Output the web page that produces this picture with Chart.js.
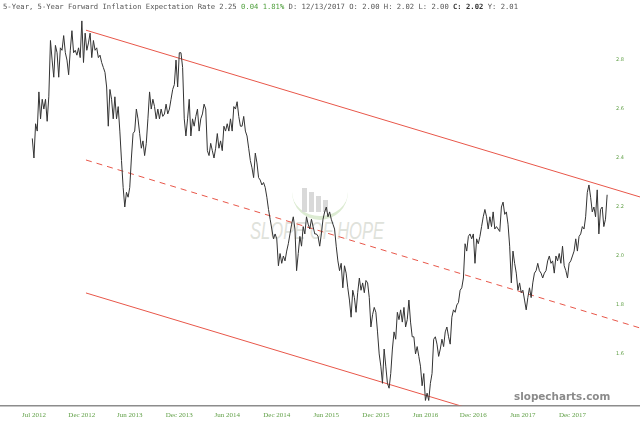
<!DOCTYPE html>
<html>
<head>
<meta charset="utf-8">
<script src="https://cdn.jsdelivr.net/npm/chart.js@4.4.0/dist/chart.umd.min.js"></script>
<style>
  html, body { margin: 0; padding: 0; background: #fff; }
  #wrap { position: relative; width: 640px; height: 425px; overflow: hidden; }
  #chart { position: absolute; left: 0; top: 0; }
  #header { position: absolute; left: 3px; top: 2px; font-family: 'DejaVu Sans Mono', monospace; font-size: 7.2px; color: #555; white-space: pre; }
  #header .up { color: #4f9f3c; }
  #header b { color: #333; }
  #brand { position: absolute; left: 514px; top: 390px; font-family: 'DejaVu Sans', sans-serif; font-weight: bold; font-size: 10.4px; color: #8a8a8a; }
  #mark { position: absolute; left: 250px; top: 218px; font-family: 'Liberation Sans', sans-serif; font-style: italic; font-size: 23px; color: #dfe2db; transform: scaleX(0.72); transform-origin: left top; white-space: pre; }
  .bar { position: absolute; background: #d9d9d9; width: 5px; }
  #swoosh { position: absolute; left: 292px; top: 178px; width: 56px; height: 38px; border-bottom: 4px solid #dcebd2; border-radius: 0 0 40px 40px; }
</style>
</head>
<body>
<div id="wrap">
  <div id="swoosh"></div>
  <div class="bar" style="left:302px; top:188px; height:24px;"></div>
  <div class="bar" style="left:309px; top:192px; height:20px;"></div>
  <div class="bar" style="left:316px; top:196px; height:16px;"></div>
  <div class="bar" style="left:323px; top:200px; height:12px;"></div>
  <div id="mark">SLOPE OF HOPE</div>
  <canvas id="chart" width="640" height="425"></canvas>
  <div id="header">5-Year, 5-Year Forward Inflation Expectation Rate 2.25 <span class="up">0.04 1.81%</span> D: 12/13/2017 O: 2.00 H: 2.02 L: 2.00 <b>C: 2.02</b> Y: 2.01</div>
  <div id="brand">slopecharts.com</div>
</div>
<script>
    // 5y5y forward inflation expectation, Jul 2012 - Dec 2017
    const rate = [
        2.48,2.40,2.54,2.51,2.67,2.56,2.64,2.60,2.64,2.55,
        2.65,2.88,2.80,2.73,2.86,2.83,2.73,2.85,2.84,2.90,
        2.83,2.80,2.74,2.84,2.92,2.83,2.84,2.82,2.85,2.81,
        2.96,2.79,2.91,2.84,2.87,2.91,2.81,2.88,2.84,2.85,
        2.81,2.82,2.79,2.77,2.75,2.69,2.53,2.68,2.64,2.56,
        2.65,2.56,2.61,2.51,2.39,2.28,2.20,2.26,2.24,2.28,
        2.40,2.50,2.51,2.60,
        2.56,2.50,2.44,2.47,2.41,2.46,2.56,2.67,2.60,2.64,
        2.61,2.56,2.60,2.56,2.60,2.57,2.58,2.62,2.58,2.60,
        2.64,2.68,2.70,2.80,2.69,2.83,2.83,2.77,2.56,2.49,
        2.56,2.64,2.49,2.56,2.53,2.57,2.60,2.51,2.56,2.58,
        2.62,2.60,2.43,2.41,2.46,2.43,2.40,2.44,2.50,2.44,
        2.47,2.43,2.53,2.51,2.54,2.51,2.56,2.51,2.61,2.60,
        2.63,2.57,2.53,2.53,2.57,2.51,2.49,2.44,2.39,2.36,
        2.32,2.42,2.38,
        2.32,2.31,2.29,2.30,2.28,2.24,2.19,2.15,2.11,2.07,
        2.09,2.07,1.96,2.01,1.97,2.00,1.98,2.02,2.05,2.09,
        2.13,2.16,2.11,1.94,2.01,2.08,2.04,2.12,2.09,2.16,
        2.13,2.11,2.15,2.12,2.09,2.09,2.08,2.04,2.09,2.15,
        2.18,2.20,2.16,2.18,2.15,2.13,2.11,2.04,1.98,1.94,
        1.97,1.87,1.96,1.93,1.87,1.82,1.75,1.86,1.83,1.77,
        1.85,1.91,1.86,1.89,1.85,1.90,1.89,1.83,1.71,1.76,
        1.79,
        1.77,1.69,1.60,1.55,1.48,1.62,1.55,1.48,1.46,1.52,
        1.62,1.69,1.66,1.77,1.74,1.78,1.73,1.79,1.71,1.74,
        1.82,1.73,1.67,1.67,1.60,1.63,1.59,1.55,1.47,1.52,
        1.41,1.44,1.41,1.48,1.52,1.66,1.67,1.64,1.59,1.62,
        1.66,1.63,1.69,1.71,1.67,1.64,1.75,1.78,1.77,1.80,
        1.81,1.86,1.87,1.91,2.05,2.02,2.08,2.09,2.07,2.09,
        1.97,2.07,2.05,2.08,2.12,2.16,2.19,2.16,2.11,2.16,
        2.12,2.18,2.11,2.12,2.11,
        2.10,2.20,2.22,2.17,2.18,2.13,2.04,1.89,2.02,1.97,
        1.93,1.86,1.89,1.85,1.86,1.82,1.78,1.83,1.87,1.83,
        1.89,1.93,1.94,1.97,1.94,1.93,1.91,1.93,1.94,1.98,
        2.00,1.97,1.98,1.93,2.00,1.98,2.01,1.97,2.04,1.96,
        1.94,1.91,1.97,1.98,2.00,2.02,2.07,2.02,2.08,2.09,
        2.12,2.11,2.16,2.26,2.29,2.24,2.18,2.20,2.16,2.27,
        2.09,2.19,2.20,2.12,2.15,2.25
    ];

    // date labels on the bottom axis and the data index they sit at
    const tickLabels = ['Jul 2012','Dec 2012','Jun 2013','Dec 2013','Jun 2014','Dec 2014',
                        'Jun 2015','Dec 2015','Jun 2016','Dec 2016','Jun 2017','Dec 2017'];
    const tickIndex = [1, 30, 59, 89, 118, 148, 178, 208, 238, 267, 297, 327];
    const yTicks = [1.6, 1.8, 2.0, 2.2, 2.4, 2.6, 2.8];

    // hand drawn trend channel: [start, end] in (index, value)
    const channelX = [32.5, 367.9];
    const upperLine = [2.922, 2.241];
    const middleLine = [2.392, 1.706];
    const lowerLine = [1.849, 1.167];

    const green = '#5f9f45';
    const red = '#e8574a';

    function channel(vals) {
        return [{ x: channelX[0], y: vals[0] }, { x: channelX[1], y: vals[1] }];
    }

    // price labels are printed inside the plot near the right edge
    const insideYLabels = {
        id: 'insideYLabels',
        afterDraw(chart) {
            const y = chart.scales.y;
            const c = chart.ctx;
            c.save();
            c.fillStyle = green;
            c.font = '5px "DejaVu Sans"';
            c.textAlign = 'center';
            c.textBaseline = 'middle';
            yTicks.forEach(v => {
                c.fillText(v.toFixed(1), chart.chartArea.right - 20, y.getPixelForValue(v));
            });
            c.restore();
        }
    };

    const ctx = document.getElementById('chart');
    new Chart(ctx, {
        type: 'line',
        data: {
            datasets: [
                { data: rate.map((v, i) => ({ x: i, y: v })), borderColor: '#333', borderWidth: 1, pointRadius: 0, tension: 0 },
                { data: channel(upperLine), borderColor: red, borderWidth: 1, pointRadius: 0 },
                { data: channel(middleLine), borderColor: red, borderWidth: 1, borderDash: [6, 5], pointRadius: 0 },
                { data: channel(lowerLine), borderColor: red, borderWidth: 1, pointRadius: 0 }
            ]
        },
        options: {
            responsive: false,
            animation: false,
            layout: { padding: { top: 16, bottom: 1, left: 0, right: 0 } },
            plugins: { legend: { display: false }, tooltip: { enabled: false } },
            scales: {
                x: {
                    type: 'linear',
                    min: -19.55,
                    max: 367.9,
                    grid: { display: false, drawTicks: false },
                    border: { display: true, color: '#8c8c8c', width: 1.5 },
                    afterBuildTicks: s => { s.ticks = tickIndex.map(v => ({ value: v })); },
                    ticks: {
                        autoSkip: false,
                        maxRotation: 0,
                        padding: 5,
                        color: green,
                        font: { family: 'Liberation Serif', size: 7 },
                        callback: (v, i) => tickLabels[i]
                    }
                },
                y: {
                    display: false,
                    min: 1.389,
                    max: 2.98
                }
            }
        },
        plugins: [insideYLabels]
    });
</script>
</body>
</html>
